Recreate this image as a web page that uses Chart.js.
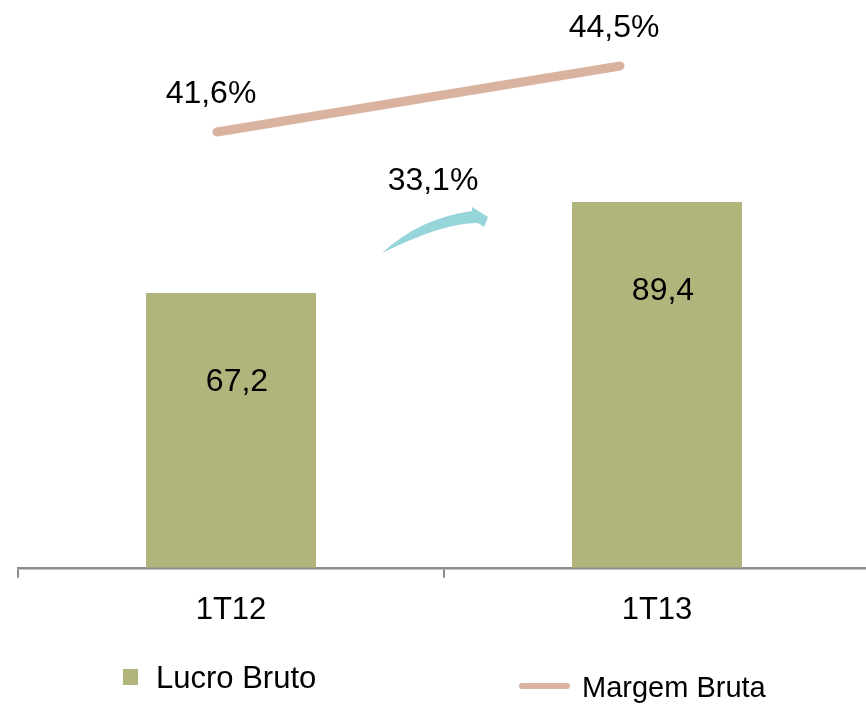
<!DOCTYPE html>
<html>
<head>
<meta charset="utf-8">
<script src="https://cdn.jsdelivr.net/npm/chart.js@4.4.0/dist/chart.umd.min.js"></script>
<style>
  html, body { margin: 0; padding: 0; background: #fff; overflow: hidden; }
  #wrap { position: relative; width: 870px; height: 704px; }
</style>
</head>
<body>
<div id="wrap"><canvas id="lucro"></canvas></div>
<script>
var categories = ['1T12', '1T13'];
var lucroBruto = [67.2, 89.4];
var margemBruta = [41.6, 44.5];
var crescimento = 33.1;
var legendLabels = ['Lucro Bruto', 'Margem Bruta'];

var barColor = '#b1b57c';
var lineColor = '#d9b3a0';
var arrowColor = '#96d5d9';
var fontName = '"Liberation Sans", Arial, sans-serif';

function fmt(v) {
    return v.toFixed(1).replace('.', ',');
}

// labels, arrow and legend drawn on top of the chart
var extras = {
    id: 'extras',
    afterDatasetsDraw: function(chart) {
        var ctx = chart.ctx;
        ctx.save();
        ctx.fillStyle = '#000';
        ctx.textAlign = 'center';
        ctx.textBaseline = 'alphabetic';
        ctx.font = '32px ' + fontName;

        var bars = chart.getDatasetMeta(0).data;
        bars.forEach(function(bar, i) {
            ctx.fillText(fmt(lucroBruto[i]), bar.x + 6, bar.y + 98);
        });

        var points = chart.getDatasetMeta(1).data;
        points.forEach(function(pt, i) {
            ctx.fillText(fmt(margemBruta[i]) + '%', pt.x - 6, pt.y - 29);
        });

        // growth arrow
        ctx.fillStyle = arrowColor;
        ctx.beginPath();
        ctx.moveTo(382, 253);
        ctx.quadraticCurveTo(420, 218, 472, 211);
        ctx.lineTo(472, 207);
        ctx.lineTo(488, 217);
        ctx.lineTo(484, 227);
        ctx.lineTo(478, 223);
        ctx.quadraticCurveTo(445, 222, 382, 253);
        ctx.closePath();
        ctx.fill();

        ctx.fillStyle = '#000';
        ctx.fillText(fmt(crescimento) + '%', 433, 190);

        // legend
        ctx.textAlign = 'left';
        ctx.fillStyle = barColor;
        ctx.fillRect(123, 669, 15, 16);
        ctx.fillStyle = '#000';
        ctx.font = '31px ' + fontName;
        ctx.fillText(legendLabels[0], 156, 688);

        ctx.strokeStyle = lineColor;
        ctx.lineWidth = 6;
        ctx.lineCap = 'round';
        ctx.beginPath();
        ctx.moveTo(522, 686);
        ctx.lineTo(567, 686);
        ctx.stroke();
        ctx.font = '29px ' + fontName;
        ctx.fillText(legendLabels[1], 582, 697);
        ctx.restore();
    }
};

var ctx = document.getElementById('lucro');
var myChart = new Chart(ctx, {
    type: 'bar',
    data: {
        labels: categories,
        datasets: [{
            type: 'bar',
            label: legendLabels[0],
            data: lucroBruto,
            backgroundColor: barColor,
            barPercentage: 0.399,
            categoryPercentage: 1.0,
            grouped: false,
            yAxisID: 'y',
            order: 2
        }, {
            type: 'line',
            label: legendLabels[1],
            data: margemBruta.map(function(v, i) { return { x: i, y: v }; }),
            borderColor: lineColor,
            borderWidth: 9,
            borderCapStyle: 'round',
            pointRadius: 0,
            xAxisID: 'x2',
            yAxisID: 'y2',
            order: 1
        }]
    },
    options: {
        responsive: true,
        maintainAspectRatio: false,
        animation: false,
        layout: {
            padding: { left: 18, right: 0, top: 0, bottom: 61 }
        },
        plugins: {
            legend: { display: false },
            tooltip: { enabled: false }
        },
        scales: {
            x: {
                offset: true,
                grid: {
                    offset: true,
                    drawOnChartArea: false,
                    color: '#8c8c8c',
                    lineWidth: 2,
                    tickLength: 10
                },
                border: { color: '#8c8c8c', width: 2.5 },
                ticks: {
                    color: '#000',
                    padding: 14,
                    font: { family: fontName, size: 31 }
                }
            },
            x2: {
                type: 'linear',
                display: false,
                offset: false,
                min: -0.4938,
                max: 1.6203
            },
            y: {
                display: false,
                min: 0,
                max: 138.8
            },
            y2: {
                display: false,
                min: 22.44,
                max: 47.40
            }
        }
    },
    plugins: [extras]
});
</script>
</body>
</html>
